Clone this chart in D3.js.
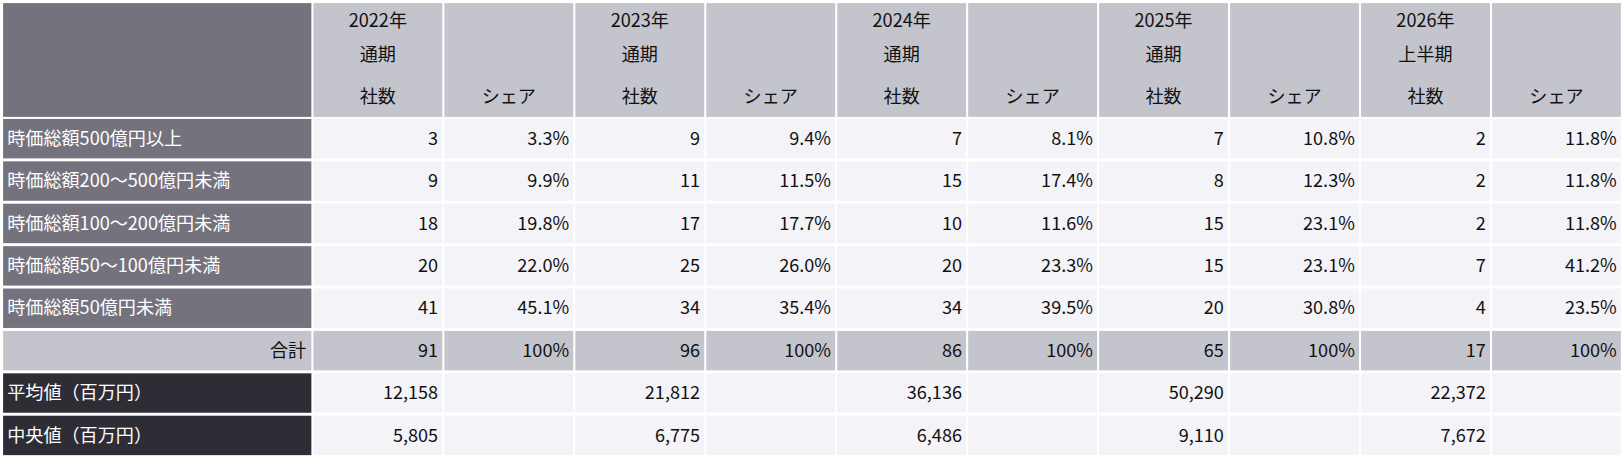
<!DOCTYPE html>
<html><head><meta charset="utf-8">
<script src="https://cdn.jsdelivr.net/npm/d3@7"></script>
<style>body{margin:0;background:#fff}</style></head>
<body><svg id="c" width="1622" height="456"></svg>
<script>
const periods=["2022年","2023年","2024年","2025年","2026年"];
const periodSub=["通期","通期","通期","通期","上半期"];
const categories=["時価総額500億円以上","時価総額200～500億円未満","時価総額100～200億円未満","時価総額50～100億円未満","時価総額50億円未満"];
const counts=[[3,9,18,20,41],[9,11,17,25,34],[7,15,10,20,34],[7,8,15,15,20],[2,2,2,7,4]];
const shares=[["3.3%","9.9%","19.8%","22.0%","45.1%"],["9.4%","11.5%","17.7%","26.0%","35.4%"],["8.1%","17.4%","11.6%","23.3%","39.5%"],["10.8%","12.3%","23.1%","23.1%","30.8%"],["11.8%","11.8%","11.8%","41.2%","23.5%"]];
const totals=[91,96,86,65,17];
const means=["12,158","21,812","36,136","50,290","22,372"];
const medians=["5,805","6,775","6,486","9,110","7,672"];

const svg=d3.select("#c").append("g").attr("transform","scale(1.0344)");
const F='"Noto Sans CJK JP","Noto Sans",sans-serif';
const x0=3,firstW=298,colW=126.6,gap=2;
const cx=i=>x0+firstW+gap+i*colW;
const rowKeys=d3.range(8);
const y=d3.scaleBand().domain(rowKeys).range([115,440]).paddingInner(0.07).paddingOuter(0);
const hdrTop=3,hdrBot=113;
function rect(x,yy,w,h,f){svg.append("rect").attr("x",x).attr("y",yy).attr("width",w).attr("height",h).attr("fill",f);}
function text(t,x,yy,anchor,fill){svg.append("text").attr("x",x).attr("y",yy).attr("text-anchor",anchor).attr("fill",fill||"#111").attr("font-family",F).attr("font-size",17.5).text(t);}
rect(x0,hdrTop,firstW,hdrBot-hdrTop,"#74737d");
for(let i=0;i<10;i++)rect(cx(i),hdrTop,colW-gap,hdrBot-hdrTop,"#c4c4cc");
periods.forEach((p,k)=>{const mx=cx(2*k)+(colW-gap)/2;
 text(p,mx,26,"middle");text(periodSub[k],mx,59,"middle");text("社数",mx,100,"middle");
 text("シェア",cx(2*k+1)+(colW-gap)/2,100,"middle");});
rowKeys.forEach(r=>{
 const yy=y(r),h=y.bandwidth(),ty=yy+h/2+6;
 const labFill=r<5?"#74737d":r==5?"#c4c4cc":"#2e2d36";
 const cellFill=r==5?"#c4c4cc":"#f4f4f8";
 rect(x0,yy,firstW,h,labFill);
 for(let i=0;i<10;i++)rect(cx(i),yy,colW-gap,h,cellFill);
 if(r<5)text(categories[r],x0+4,ty,"start","#fff");
 else if(r==5)text("合計",x0+firstW-5,ty,"end");
 else text(r==6?"平均値（百万円）":"中央値（百万円）",x0+4,ty,"start","#fff");
 periods.forEach((p,k)=>{
  const rx1=cx(2*k)+colW-gap-4, rx2=cx(2*k+1)+colW-gap-4;
  if(r<5){text(counts[k][r],rx1,ty,"end");text(shares[k][r],rx2,ty,"end");}
  else if(r==5){text(totals[k],rx1,ty,"end");text("100%",rx2,ty,"end");}
  else text(r==6?means[k]:medians[k],rx1,ty,"end");
 });
});
</script></body></html>
